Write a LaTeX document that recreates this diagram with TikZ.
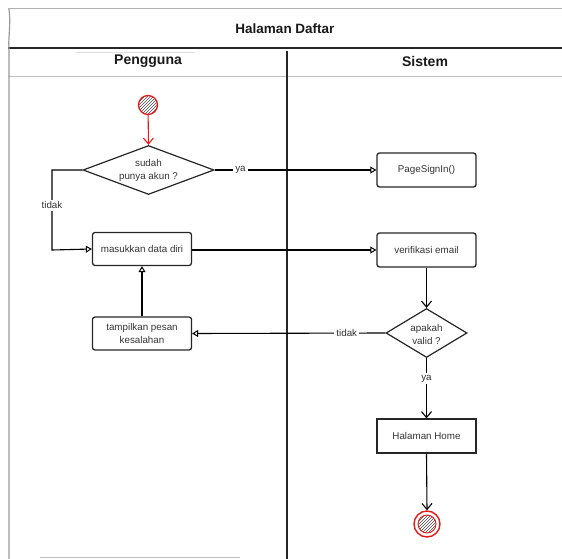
\documentclass[tikz,border=0pt]{standalone}
\usepackage{fontspec}
\setmainfont{Liberation Sans}
\usetikzlibrary{arrows.meta,shapes.geometric,patterns}
\definecolor{txtc}{HTML}{333333}
\definecolor{redc}{HTML}{E51B1B}
\tikzset{
  box/.style={draw=black!85, line width=1.3pt, rounded corners=2.5pt, minimum width=99pt, minimum height=34pt, inner sep=0pt, align=center, text=txtc, font=\fontsize{9.8}{13}\selectfont},
  sqbox/.style={box, rounded corners=0pt, line width=1.2pt},
  dia/.style={draw=black!85, line width=1.2pt, diamond, inner sep=0pt},
  lbl/.style={text=txtc, font=\fontsize{9.8}{13}\selectfont, align=center, inner sep=1pt},
  elab/.style={lbl, fill=white, inner sep=2pt},
  conn/.style={draw=black, line width=1.1pt},
  opentip/.style={-{Triangle[open,length=6pt,width=7pt,line width=1pt]}},
  barb/.style={-{Straight Barb[length=6pt,width=10pt,line width=1.1pt]}},
  hdr/.style={font=\bfseries\fontsize{14}{16}\selectfont, text=black!90},
}
\begin{document}
\begin{tikzpicture}[x=1pt,y=-1pt]
\useasboundingbox (0,0) rectangle (562,559);
% pool frame
\draw[gray!60, line width=1pt] (8,9) -- (562,9);
\draw[black!85, line width=1.2pt] (8,48) -- (562,48);
\draw[gray!50, line width=0.7pt] (8,76) -- (562,76);
\draw[gray!80, line width=1.2pt] (9,9) .. controls (11,25) and (8,40) .. (9,48) -- (9,559);
\draw[black!85, line width=1.2pt] (287,51) -- (287,559);
\draw[gray!50, line width=0.8pt] (40,557) -- (240,557);
\draw[gray!25, line width=0.8pt] (75,52) -- (195,52);
% titles
\node[hdr, font=\bfseries\fontsize{13.5}{16}\selectfont] (title) at (285,29) {Halaman Daftar};
\node[hdr] (h1) at (148,61) {Pengguna};
\node[hdr] (h2) at (425,61) {Sistem};
% nodes
\node[circle, draw=redc, line width=1.3pt, minimum size=19pt, inner sep=0pt, pattern=north east lines, pattern color=black!70] (start) at (148,105) {};
\node[dia, minimum width=131pt, minimum height=49pt] (d1) at (148.5,170) {};
\node[lbl] (d1t) at (148.5,170.5) {sudah\\punya akun ?};
\node[box] (sign) at (426.5,170) {PageSignIn()};
\node[box, minimum height=33pt] (masuk) at (142,249) {masukkan data diri};
\node[box] (verif) at (426.5,250) {verifikasi email};
\node[dia, minimum width=81pt, minimum height=49pt] (d2) at (426.5,333) {};
\node[lbl] (d2t) at (426.5,334) {apakah\\valid ?};
\node[box, minimum height=33pt] (tamp) at (142,333.5) {tampilkan pesan\\kesalahan};
\node[sqbox] (home) at (426.5,436) {Halaman Home};
\node[circle, draw=redc, line width=1.4pt, minimum size=26pt, inner sep=0pt] (end) at (427,524) {};
\node[circle, draw=redc, line width=0.9pt, minimum size=18pt, inner sep=0pt, pattern=north east lines, pattern color=black!70] (endin) at (427,524) {};
% connectors
\draw[conn, draw=redc, -{Straight Barb[length=6pt,width=10pt,line width=1.1pt]}, redc] (start) -- (d1.north);
\draw[conn, opentip] (d1.east) -- node[elab, pos=0.16] (ya1) {ya} (sign.west);
\draw[conn, opentip] (d1.west) -- (52,170) -- node[elab, pos=0.44] (tidak1) {tidak} (52,250) -- (masuk.west);
\draw[conn, opentip] (masuk.east |- 0,250) -- (verif.west);
\draw[conn, barb] (verif.south) -- (d2.north);
\draw[conn, opentip] (d2.west) -- node[elab, pos=0.2] (tidak2) {tidak} (tamp.east);
\draw[conn, opentip] (tamp.north) -- (masuk.south);
\draw[conn, barb] (d2.south) -- node[elab, pos=0.34] (ya2) {ya} (home.north);
\draw[conn, barb] (home.south) -- (end.north);
\end{tikzpicture}
\end{document}
